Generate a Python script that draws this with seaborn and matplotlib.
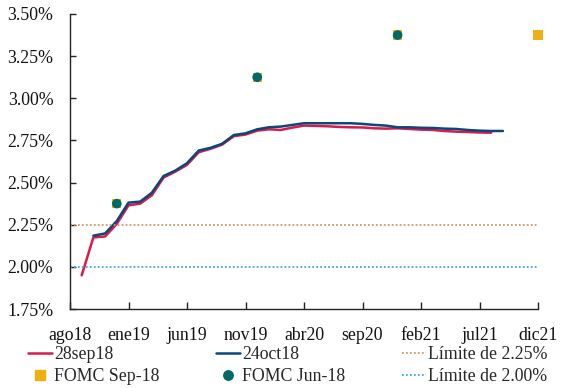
import matplotlib
matplotlib.use("Agg")
import matplotlib.pyplot as plt
import seaborn as sns
import pandas as pd
from matplotlib.lines import Line2D

# ---- data ----
tick_labels = ["ago18", "ene19", "jun19", "nov19", "abr20", "sep20", "feb21", "jul21", "dic21"]
tick_months = [0, 5, 10, 15, 20, 25, 30, 35, 40]  # months since ago18

months_sep = list(range(1, 37))
curve_28sep18 = [1.95, 2.175, 2.18, 2.255, 2.365, 2.375, 2.425, 2.53, 2.565, 2.605,
                 2.68, 2.70, 2.725, 2.775, 2.785, 2.808, 2.816, 2.812, 2.826, 2.838,
                 2.836, 2.834, 2.83, 2.828, 2.827, 2.822, 2.82, 2.822, 2.818, 2.814,
                 2.812, 2.806, 2.802, 2.80, 2.797, 2.796]
months_oct = list(range(2, 38))
curve_24oct18 = [2.185, 2.198, 2.272, 2.381, 2.387, 2.44, 2.539, 2.571, 2.615, 2.69,
                 2.706, 2.73, 2.782, 2.792, 2.816, 2.828, 2.832, 2.842, 2.852, 2.852,
                 2.852, 2.852, 2.852, 2.848, 2.842, 2.838, 2.828, 2.828, 2.825, 2.824,
                 2.82, 2.818, 2.812, 2.808, 2.806, 2.806]

fomc_sep_months = [4, 16, 28, 40]
fomc_sep_values = [2.375, 3.125, 3.375, 3.375]
fomc_jun_months = [4, 16, 28]
fomc_jun_values = [2.375, 3.125, 3.375]

limits = [2.25, 2.00]
limit_labels = ["Límite de 2.25%", "Límite de 2.00%"]

y_ticks = [1.75, 2.00, 2.25, 2.50, 2.75, 3.00, 3.25, 3.50]

# ---- styling ----
RED = "#D81B4A"
BLUE = "#0B4778"
TEAL = "#006A67"
YELLOW = "#EDB111"
TAN = "#C89B6A"
LBLUE = "#4AA8D8"

sns.set_style("white")
plt.rcParams["font.family"] = ["Liberation Serif", "DejaVu Serif"]
FS = 12.8

fig = plt.figure(figsize=(5.63, 3.88), dpi=100)
ax = fig.add_axes([70 / 563, 1 - 309 / 388, (538 - 70) / 563, (309 - 14) / 388])

df_sep = pd.DataFrame({"m": months_sep, "v": curve_28sep18})
df_oct = pd.DataFrame({"m": months_oct, "v": curve_24oct18})
sns.lineplot(data=df_sep, x="m", y="v", ax=ax, color=RED, linewidth=1.8)
sns.lineplot(data=df_oct, x="m", y="v", ax=ax, color=BLUE, linewidth=1.8)

ax.axhline(limits[0], color=TAN, linestyle=(0, (1, 1.2)), linewidth=1.3)
ax.axhline(limits[1], color=LBLUE, linestyle=(0, (1, 1.2)), linewidth=1.3)

sns.scatterplot(x=fomc_sep_months, y=fomc_sep_values, ax=ax, marker="s", s=44,
                color=YELLOW, edgecolor="none", zorder=5, clip_on=False)
sns.scatterplot(x=fomc_jun_months, y=fomc_jun_values, ax=ax, marker="o", s=48,
                color=TEAL, edgecolor="none", zorder=6, clip_on=False)

ax.set_xlim(0, 40)
ax.set_ylim(1.75, 3.50)
ax.set_xticks(tick_months)
ax.set_xticklabels(tick_labels)
ax.set_yticks(y_ticks)
ax.set_yticklabels([f"{v:.2f}%" for v in y_ticks])
ax.set_xlabel("")
ax.set_ylabel("")

for s in ["top", "right"]:
    ax.spines[s].set_visible(False)
for s in ["left", "bottom"]:
    ax.spines[s].set_color("#222222")
    ax.spines[s].set_linewidth(1.0)

ax.tick_params(axis="x", direction="in", length=5, width=1, color="#222222",
               labelsize=FS, pad=13, bottom=True)
ax.tick_params(axis="y", direction="in", length=4, width=1, color="#222222",
               labelsize=FS, pad=12, left=True)
for lab in ax.get_xticklabels() + ax.get_yticklabels():
    lab.set_color("#111111")

handles = [
    Line2D([], [], color=RED, linewidth=1.8),
    Line2D([], [], color=YELLOW, marker="s", linestyle="none", markersize=7.2),
    Line2D([], [], color=BLUE, linewidth=1.8),
    Line2D([], [], color=TEAL, marker="o", linestyle="none", markersize=6.8),
    Line2D([], [], color=TAN, linestyle=(0, (1, 1.2)), linewidth=1.3),
    Line2D([], [], color=LBLUE, linestyle=(0, (1, 1.2)), linewidth=1.3),
]
labels = ["28sep18", "FOMC Sep-18", "24oct18", "FOMC Jun-18", limit_labels[0], limit_labels[1]]
fig.legend(handles, labels, ncol=3, loc="upper left", bbox_to_anchor=(28 / 563, 1 - 346 / 388),
           frameon=False, fontsize=FS, handlelength=1.35, handletextpad=0.1,
           columnspacing=3.2, labelspacing=0.3, borderpad=0, borderaxespad=0)

fig.savefig("out.png", dpi=100)
